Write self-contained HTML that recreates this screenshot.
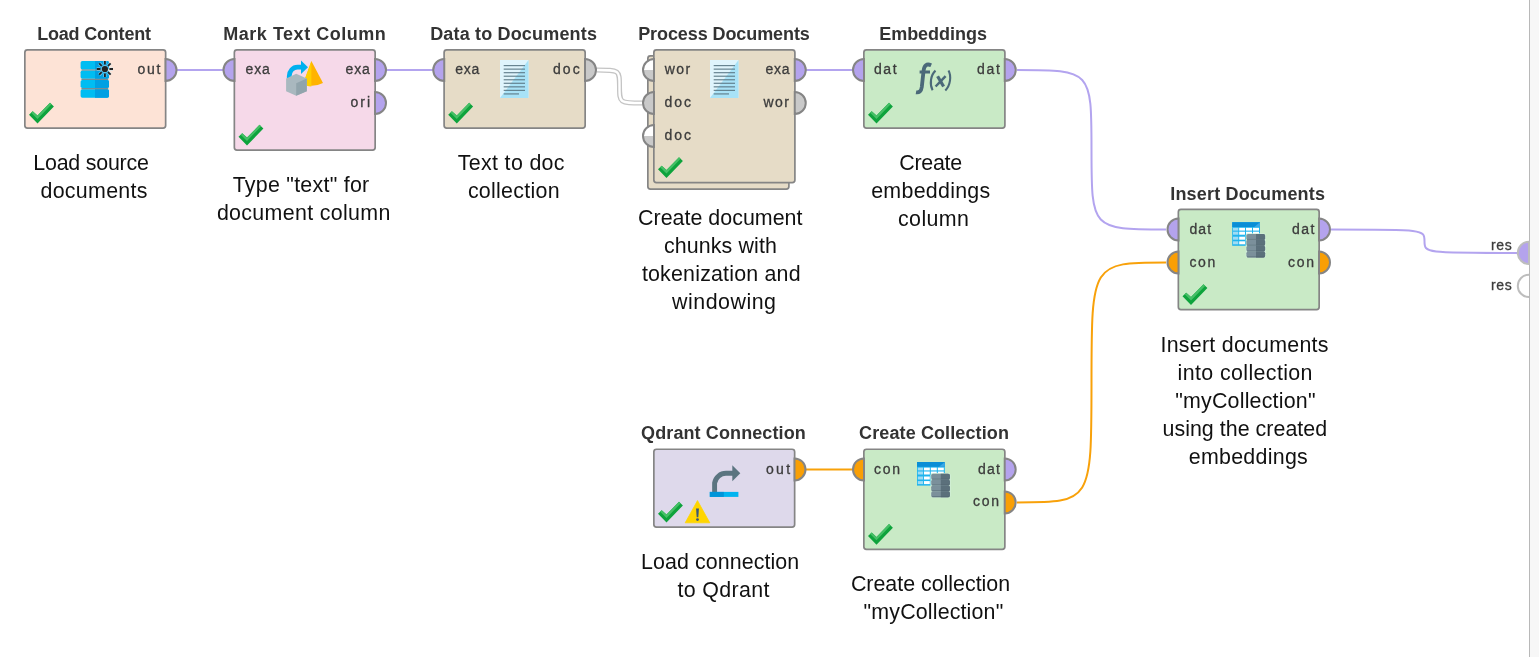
<!DOCTYPE html><html><head><meta charset="utf-8"><style>
html,body{margin:0;padding:0;background:#fff;width:1539px;height:657px;overflow:hidden}
svg{position:absolute;left:0;top:0;font-family:"Liberation Sans",sans-serif;will-change:transform}
.t{font-weight:bold;font-size:18px;fill:#333}
.d{font-size:21.4px;fill:#111}
.p{font-size:14px;fill:#3c3c3c;stroke:#3c3c3c;stroke-width:0.3px}
</style></head><body>
<svg width="1539" height="657" viewBox="0 0 1539 657">
<rect x="1530" y="0" width="9" height="657" fill="#f7f7f7"/>
<rect x="1529" y="0" width="1" height="657" fill="#b8b8b8"/>
<path d="M170,70 L230,70" fill="none" stroke="#b3a4ef" stroke-width="2"/>
<path d="M380,70 L440,70" fill="none" stroke="#b3a4ef" stroke-width="2"/>
<path d="M597,70 C619.5,70 619.5,70 619.5,86.5 C619.5,103 619.5,103 642,103" fill="none" stroke="#c4c4c4" stroke-width="5"/>
<path d="M597,70 C619.5,70 619.5,70 619.5,86.5 C619.5,103 619.5,103 642,103" fill="none" stroke="#fff" stroke-width="2.4"/>
<path d="M800,70 L860,70" fill="none" stroke="#b3a4ef" stroke-width="2"/>
<path d="M1017,70 C1091.5,70 1091.5,70 1091.5,149.75 C1091.5,229.5 1091.5,229.5 1166,229.5" fill="none" stroke="#b3a4ef" stroke-width="2"/>
<path d="M1331,229.5 C1424.5,229.5 1424.5,229.5 1424.5,241.2 C1424.5,252.9 1424.5,252.9 1518,252.9" fill="none" stroke="#b3a4ef" stroke-width="2"/>
<path d="M800,469.4 L860,469.4" fill="none" stroke="#f8a10a" stroke-width="2"/>
<path d="M1017,502.4 C1091.5,502.4 1091.5,502.4 1091.5,382.45 C1091.5,262.5 1091.5,262.5 1166,262.5" fill="none" stroke="#f8a10a" stroke-width="2"/>
<rect x="24.85" y="49.85" width="140.8" height="78.3" rx="2.6" fill="#fde3d6" stroke="#858585" stroke-width="1.7"/>
<text class="t" x="37.20" y="40" style="letter-spacing:-0.196px">Load Content</text>
<path d="M165.5,59 A11,11 0 0 1 165.5,81 Z" fill="#b4a3ed" stroke="#858585" stroke-width="2"/>
<polygon points="29.0,114.7 32.7,111.2 37.5,115.6 50.0,102.8 53.9,106.5 37.5,123.4" fill="#0ea33c"/>
<polygon points="31.1,112.7 32.7,111.2 37.5,115.6 50.0,102.8 51.6,104.3 37.5,118.9" fill="#45bf66"/>
<rect x="234.35" y="49.85" width="140.8" height="100.3" rx="2.6" fill="#f6d9e9" stroke="#858585" stroke-width="1.7"/>
<text class="t" x="223.22" y="40" style="letter-spacing:0.528px">Mark Text Column</text>
<path d="M234.5,59 A11,11 0 0 0 234.5,81 Z" fill="#b4a3ed" stroke="#858585" stroke-width="2"/>
<path d="M375.0,59 A11,11 0 0 1 375.0,81 Z" fill="#b4a3ed" stroke="#858585" stroke-width="2"/>
<path d="M375.0,92 A11,11 0 0 1 375.0,114 Z" fill="#b4a3ed" stroke="#858585" stroke-width="2"/>
<polygon points="238.5,136.7 242.2,133.2 247.0,137.6 259.5,124.8 263.4,128.5 247.0,145.4" fill="#0ea33c"/>
<polygon points="240.7,134.7 242.2,133.2 247.0,137.6 259.5,124.8 261.1,126.3 247.0,140.9" fill="#45bf66"/>
<rect x="444.1" y="49.85" width="141.05" height="78.3" rx="2.6" fill="#e6dcc7" stroke="#858585" stroke-width="1.7"/>
<text class="t" x="430.18" y="40" style="letter-spacing:0.170px">Data to Documents</text>
<path d="M444.25,59 A11,11 0 0 0 444.25,81 Z" fill="#b4a3ed" stroke="#858585" stroke-width="2"/>
<path d="M585.0,59 A11,11 0 0 1 585.0,81 Z" fill="#c9c9c9" stroke="#858585" stroke-width="2"/>
<polygon points="448.2,114.7 451.9,111.2 456.8,115.6 469.2,102.8 473.1,106.5 456.8,123.4" fill="#0ea33c"/>
<polygon points="450.4,112.7 451.9,111.2 456.8,115.6 469.2,102.8 470.9,104.3 456.8,118.9" fill="#45bf66"/>
<rect x="647.85" y="55.85" width="141.05" height="133.3" rx="2.6" fill="#e6dcc7" stroke="#858585" stroke-width="1.7"/>
<rect x="653.85" y="49.85" width="141.05" height="132.8" rx="2.6" fill="#e6dcc7" stroke="#858585" stroke-width="1.7"/>
<text class="t" x="638.18" y="40" style="letter-spacing:-0.089px">Process Documents</text>
<path d="M654,59 A11,11 0 0 0 654,81 Z" fill="#fff" stroke="none"/>
<path d="M654,70 L643,70 A11,11 0 0 0 654,81 Z" fill="#c9c9c9"/>
<path d="M654,59 A11,11 0 0 0 654,81 Z" fill="none" stroke="#858585" stroke-width="2"/>
<path d="M654,92 A11,11 0 0 0 654,114 Z" fill="#c9c9c9" stroke="#858585" stroke-width="2"/>
<path d="M654,125 A11,11 0 0 0 654,147 Z" fill="#fff" stroke="none"/>
<path d="M654,136 L643,136 A11,11 0 0 0 654,147 Z" fill="#c9c9c9"/>
<path d="M654,125 A11,11 0 0 0 654,147 Z" fill="none" stroke="#858585" stroke-width="2"/>
<path d="M794.75,59 A11,11 0 0 1 794.75,81 Z" fill="#b4a3ed" stroke="#858585" stroke-width="2"/>
<path d="M794.75,92 A11,11 0 0 1 794.75,114 Z" fill="#c9c9c9" stroke="#858585" stroke-width="2"/>
<polygon points="658.0,169.2 661.7,165.7 666.5,170.1 679.0,157.3 682.9,161.0 666.5,177.9" fill="#0ea33c"/>
<polygon points="660.1,167.2 661.7,165.7 666.5,170.1 679.0,157.3 680.6,158.8 666.5,173.4" fill="#45bf66"/>
<rect x="863.85" y="49.85" width="141.05" height="78.3" rx="2.6" fill="#c9eac6" stroke="#858585" stroke-width="1.7"/>
<text class="t" x="879.20" y="40" style="letter-spacing:-0.029px">Embeddings</text>
<path d="M864,59 A11,11 0 0 0 864,81 Z" fill="#b4a3ed" stroke="#858585" stroke-width="2"/>
<path d="M1004.75,59 A11,11 0 0 1 1004.75,81 Z" fill="#b4a3ed" stroke="#858585" stroke-width="2"/>
<polygon points="868.0,114.7 871.7,111.2 876.5,115.6 889.0,102.8 892.9,106.5 876.5,123.4" fill="#0ea33c"/>
<polygon points="870.1,112.7 871.7,111.2 876.5,115.6 889.0,102.8 890.6,104.3 876.5,118.9" fill="#45bf66"/>
<rect x="1178.35" y="209.35" width="140.8" height="100.3" rx="2.6" fill="#c9eac6" stroke="#858585" stroke-width="1.7"/>
<text class="t" x="1170.22" y="199.5" style="letter-spacing:0.181px">Insert Documents</text>
<path d="M1178.5,218.5 A11,11 0 0 0 1178.5,240.5 Z" fill="#b4a3ed" stroke="#858585" stroke-width="2"/>
<path d="M1178.5,251.5 A11,11 0 0 0 1178.5,273.5 Z" fill="#f99f05" stroke="#858585" stroke-width="2"/>
<path d="M1319.0,218.5 A11,11 0 0 1 1319.0,240.5 Z" fill="#b4a3ed" stroke="#858585" stroke-width="2"/>
<path d="M1319.0,251.5 A11,11 0 0 1 1319.0,273.5 Z" fill="#f99f05" stroke="#858585" stroke-width="2"/>
<polygon points="1182.5,296.2 1186.2,292.7 1191.0,297.1 1203.5,284.3 1207.4,288.0 1191.0,304.9" fill="#0ea33c"/>
<polygon points="1184.7,294.2 1186.2,292.7 1191.0,297.1 1203.5,284.3 1205.1,285.9 1191.0,300.4" fill="#45bf66"/>
<rect x="653.85" y="449.25" width="140.8" height="77.89999999999999" rx="2.6" fill="#ded9eb" stroke="#858585" stroke-width="1.7"/>
<text class="t" x="641.08" y="439.4" style="letter-spacing:0.106px">Qdrant Connection</text>
<path d="M794.5,458.4 A11,11 0 0 1 794.5,480.4 Z" fill="#f99f05" stroke="#858585" stroke-width="2"/>
<polygon points="658.0,513.7 661.7,510.2 666.5,514.6 679.0,501.8 682.9,505.5 666.5,522.4" fill="#0ea33c"/>
<polygon points="660.1,511.7 661.7,510.2 666.5,514.6 679.0,501.8 680.6,503.4 666.5,517.9" fill="#45bf66"/>
<rect x="863.85" y="449.25" width="141.0" height="100.2" rx="2.6" fill="#c9eac6" stroke="#858585" stroke-width="1.7"/>
<text class="t" x="859.06" y="439.4" style="letter-spacing:0.114px">Create Collection</text>
<path d="M864,458.4 A11,11 0 0 0 864,480.4 Z" fill="#f99f05" stroke="#858585" stroke-width="2"/>
<path d="M1004.7,458.4 A11,11 0 0 1 1004.7,480.4 Z" fill="#b4a3ed" stroke="#858585" stroke-width="2"/>
<path d="M1004.7,491.4 A11,11 0 0 1 1004.7,513.4 Z" fill="#f99f05" stroke="#858585" stroke-width="2"/>
<polygon points="868.0,536.0 871.7,532.5 876.5,536.9 889.0,524.1 892.9,527.8 876.5,544.7" fill="#0ea33c"/>
<polygon points="870.1,534.0 871.7,532.5 876.5,536.9 889.0,524.1 890.6,525.6 876.5,540.2" fill="#45bf66"/>
<rect x="80.6" y="60.9" width="28.4" height="8.6" rx="1.8" fill="#00bdf2"/><path d="M95.0,60.9 h12.2 a1.8,1.8 0 0 1 1.8,1.8 v5.0 a1.8,1.8 0 0 1 -1.8,1.8 h-12.2 z" fill="#00a0e3"/><rect x="80.6" y="70.5" width="28.4" height="8.299999999999999" rx="1.8" fill="#00bdf2"/><path d="M95.0,70.5 h12.2 a1.8,1.8 0 0 1 1.8,1.8 v4.699999999999999 a1.8,1.8 0 0 1 -1.8,1.8 h-12.2 z" fill="#00a0e3"/><rect x="80.6" y="80.0" width="28.4" height="8.0" rx="1.8" fill="#00bdf2"/><path d="M95.0,80.0 h12.2 a1.8,1.8 0 0 1 1.8,1.8 v4.4 a1.8,1.8 0 0 1 -1.8,1.8 h-12.2 z" fill="#00a0e3"/><rect x="80.6" y="89.3" width="28.4" height="8.399999999999999" rx="1.8" fill="#00bdf2"/><path d="M95.0,89.3 h12.2 a1.8,1.8 0 0 1 1.8,1.8 v4.799999999999999 a1.8,1.8 0 0 1 -1.8,1.8 h-12.2 z" fill="#00a0e3"/><rect x="81.39999999999999" y="69.5" width="26.8" height="1.0" fill="#5f7e8b" opacity="0.85"/><rect x="81.39999999999999" y="78.8" width="26.8" height="1.2000000000000028" fill="#5f7e8b" opacity="0.85"/><rect x="81.39999999999999" y="88.0" width="26.8" height="1.2999999999999972" fill="#5f7e8b" opacity="0.85"/><path d="M109.40,69.00 L113.00,69.00 M108.08,72.18 L110.63,74.73 M104.90,73.50 L104.90,77.10 M101.72,72.18 L99.17,74.73 M100.40,69.00 L96.80,69.00 M101.72,65.82 L99.17,63.27 M104.90,64.50 L104.90,60.90 M108.08,65.82 L110.63,63.27 " stroke="#bfe9f9" stroke-width="3.4" opacity="0.5"/><circle cx="104.89999999999999" cy="69.0" r="4" fill="#bfe9f9" opacity="0.5"/><path d="M109.40,69.00 L113.00,69.00 M108.08,72.18 L110.63,74.73 M104.90,73.50 L104.90,77.10 M101.72,72.18 L99.17,74.73 M100.40,69.00 L96.80,69.00 M101.72,65.82 L99.17,63.27 M104.90,64.50 L104.90,60.90 M108.08,65.82 L110.63,63.27 " stroke="#222" stroke-width="1.8"/><circle cx="104.89999999999999" cy="69.0" r="3.1" fill="#222"/>
<path d="M289.20,78.00 L289.20,76.30 A8.3,9.2 0 0 1 297.50,67.10 L301.50,67.10" fill="none" stroke="#00b0ef" stroke-width="4.7"/><polygon points="301.00,60.40 308.00,67.20 301.00,74.10" fill="#00b0ef"/><path d="M311.40,61.00 L303.30,83.40 Q311.40,88.50 323.00,82.90 Z" fill="#ffb300"/><path d="M311.40,61.00 L303.30,83.40 Q306.00,86.20 311.40,86.40 Z" fill="#ffd000"/><polygon points="286.10,78.40 296.20,73.80 306.80,78.40 306.80,91.20 296.20,95.70 286.10,91.20" fill="#a9b8bf"/><polygon points="296.20,83.30 306.80,78.40 306.80,91.20 296.20,95.70" fill="#91a4ac"/>
<rect x="500" y="60" width="28.5" height="38" fill="#dff4fc"/><polygon points="528.5,60 528.5,98 500,98" fill="#a8e2f7"/><rect x="503.7" y="65.0" width="21.3" height="1.2" fill="#5a7885" opacity="0.9"/><rect x="503.7" y="68.54" width="21.3" height="1.2" fill="#5a7885" opacity="0.9"/><rect x="503.7" y="72.08" width="21.3" height="1.2" fill="#5a7885" opacity="0.9"/><rect x="503.7" y="75.62" width="21.3" height="1.2" fill="#5a7885" opacity="0.9"/><rect x="503.7" y="79.16" width="21.3" height="1.2" fill="#5a7885" opacity="0.9"/><rect x="503.7" y="82.7" width="21.3" height="1.2" fill="#5a7885" opacity="0.9"/><rect x="503.7" y="86.24000000000001" width="21.3" height="1.2" fill="#5a7885" opacity="0.9"/><rect x="503.7" y="89.78" width="21.3" height="1.2" fill="#5a7885" opacity="0.9"/><rect x="503.7" y="93.32" width="15.3" height="1.2" fill="#5a7885" opacity="0.9"/>
<rect x="710" y="60" width="28.5" height="38" fill="#dff4fc"/><polygon points="738.5,60 738.5,98 710,98" fill="#a8e2f7"/><rect x="713.7" y="65.0" width="21.3" height="1.2" fill="#5a7885" opacity="0.9"/><rect x="713.7" y="68.54" width="21.3" height="1.2" fill="#5a7885" opacity="0.9"/><rect x="713.7" y="72.08" width="21.3" height="1.2" fill="#5a7885" opacity="0.9"/><rect x="713.7" y="75.62" width="21.3" height="1.2" fill="#5a7885" opacity="0.9"/><rect x="713.7" y="79.16" width="21.3" height="1.2" fill="#5a7885" opacity="0.9"/><rect x="713.7" y="82.7" width="21.3" height="1.2" fill="#5a7885" opacity="0.9"/><rect x="713.7" y="86.24000000000001" width="21.3" height="1.2" fill="#5a7885" opacity="0.9"/><rect x="713.7" y="89.78" width="21.3" height="1.2" fill="#5a7885" opacity="0.9"/><rect x="713.7" y="93.32" width="15.3" height="1.2" fill="#5a7885" opacity="0.9"/>
<path d="M931.20,65.30 C926.50,63.20 924.30,65.50 923.60,70.50 L921.80,87.00 C921.20,91.50 919.00,92.80 916.00,92.30" fill="none" stroke="#4b6979" stroke-width="3.8"/><rect x="919.6" y="70.5" width="10.4" height="3" fill="#4b6979"/><path d="M935.50,70.60 C930.50,75.00 929.50,84.50 932.60,90.20" fill="none" stroke="#4b6979" stroke-width="2.1"/><path d="M948.50,70.60 C951.50,76.00 950.50,85.50 945.30,90.50" fill="none" stroke="#4b6979" stroke-width="2.1"/><path d="M937.60,76.20 L943.60,86.50" fill="none" stroke="#4b6979" stroke-width="3.2"/><path d="M945.60,76.20 L935.60,86.50" fill="none" stroke="#4b6979" stroke-width="2.5"/>
<rect x="1232.2" y="222.2" width="27.8" height="23.6" fill="#1fb4ee"/><rect x="1232.2" y="222.2" width="27.8" height="4.8" fill="#0a8ed6"/><polygon points="1260.0,222.2 1260.0,227.0 1254.2,227.0" fill="#3aa8e6"/><rect x="1233.0" y="227.79999999999998" width="5.3" height="2.8000000000000007" fill="#9fdcf4"/><rect x="1233.0" y="231.7" width="5.3" height="3.0" fill="#9fdcf4"/><rect x="1233.0" y="236.7" width="5.3" height="3.0" fill="#9fdcf4"/><rect x="1233.0" y="241.29999999999998" width="5.3" height="3.0" fill="#9fdcf4"/><rect x="1239.2" y="227.79999999999998" width="5.800000000000001" height="2.8000000000000007" fill="#ffffff"/><rect x="1239.2" y="231.7" width="5.800000000000001" height="3.0" fill="#ffffff"/><rect x="1239.2" y="236.7" width="5.800000000000001" height="3.0" fill="#ffffff"/><rect x="1239.2" y="241.29999999999998" width="5.800000000000001" height="3.0" fill="#ffffff"/><rect x="1246.0" y="227.79999999999998" width="6.0" height="2.8000000000000007" fill="#ffffff"/><rect x="1246.0" y="231.7" width="6.0" height="3.0" fill="#ffffff"/><rect x="1246.0" y="236.7" width="6.0" height="3.0" fill="#ffffff"/><rect x="1246.0" y="241.29999999999998" width="6.0" height="3.0" fill="#ffffff"/><rect x="1253.0" y="227.79999999999998" width="6.0" height="2.8000000000000007" fill="#ffffff"/><rect x="1253.0" y="231.7" width="6.0" height="3.0" fill="#ffffff"/><rect x="1253.0" y="236.7" width="6.0" height="3.0" fill="#ffffff"/><rect x="1253.0" y="241.29999999999998" width="6.0" height="3.0" fill="#ffffff"/><rect x="1245.6000000000001" y="233.2" width="20.3" height="24.8" rx="2.2" fill="#d2f0d8" opacity="0.9"/><rect x="1246.4" y="234.0" width="18.7" height="5.85" rx="1.7" fill="#7b909b"/><path d="M1256.0,234.0 h7.4 a1.7,1.7 0 0 1 1.7,1.7 v2.4499999999999997 a1.7,1.7 0 0 1 -1.7,1.7 h-7.4 z" fill="#5b707b"/><rect x="1247.0" y="238.95" width="17.5" height="0.9" fill="#4f636e" opacity="0.7"/><rect x="1246.4" y="239.85" width="18.7" height="5.85" rx="1.7" fill="#7b909b"/><path d="M1256.0,239.85 h7.4 a1.7,1.7 0 0 1 1.7,1.7 v2.4499999999999997 a1.7,1.7 0 0 1 -1.7,1.7 h-7.4 z" fill="#5b707b"/><rect x="1247.0" y="244.79999999999998" width="17.5" height="0.9" fill="#4f636e" opacity="0.7"/><rect x="1246.4" y="245.7" width="18.7" height="5.85" rx="1.7" fill="#7b909b"/><path d="M1256.0,245.7 h7.4 a1.7,1.7 0 0 1 1.7,1.7 v2.4499999999999997 a1.7,1.7 0 0 1 -1.7,1.7 h-7.4 z" fill="#5b707b"/><rect x="1247.0" y="250.64999999999998" width="17.5" height="0.9" fill="#4f636e" opacity="0.7"/><rect x="1246.4" y="251.55" width="18.7" height="5.85" rx="1.7" fill="#7b909b"/><path d="M1256.0,251.55 h7.4 a1.7,1.7 0 0 1 1.7,1.7 v2.4499999999999997 a1.7,1.7 0 0 1 -1.7,1.7 h-7.4 z" fill="#5b707b"/><rect x="1247.0" y="256.50000000000006" width="17.5" height="0.9" fill="#4f636e" opacity="0.7"/>
<rect x="917" y="462" width="27.8" height="23.6" fill="#1fb4ee"/><rect x="917" y="462" width="27.8" height="4.8" fill="#0a8ed6"/><polygon points="944.8,462 944.8,466.8 939,466.8" fill="#3aa8e6"/><rect x="917.8" y="467.6" width="5.3" height="2.8000000000000007" fill="#9fdcf4"/><rect x="917.8" y="471.5" width="5.3" height="3.0" fill="#9fdcf4"/><rect x="917.8" y="476.5" width="5.3" height="3.0" fill="#9fdcf4"/><rect x="917.8" y="481.1" width="5.3" height="3.0" fill="#9fdcf4"/><rect x="924" y="467.6" width="5.800000000000001" height="2.8000000000000007" fill="#ffffff"/><rect x="924" y="471.5" width="5.800000000000001" height="3.0" fill="#ffffff"/><rect x="924" y="476.5" width="5.800000000000001" height="3.0" fill="#ffffff"/><rect x="924" y="481.1" width="5.800000000000001" height="3.0" fill="#ffffff"/><rect x="930.8" y="467.6" width="6.0" height="2.8000000000000007" fill="#ffffff"/><rect x="930.8" y="471.5" width="6.0" height="3.0" fill="#ffffff"/><rect x="930.8" y="476.5" width="6.0" height="3.0" fill="#ffffff"/><rect x="930.8" y="481.1" width="6.0" height="3.0" fill="#ffffff"/><rect x="937.8" y="467.6" width="6.0" height="2.8000000000000007" fill="#ffffff"/><rect x="937.8" y="471.5" width="6.0" height="3.0" fill="#ffffff"/><rect x="937.8" y="476.5" width="6.0" height="3.0" fill="#ffffff"/><rect x="937.8" y="481.1" width="6.0" height="3.0" fill="#ffffff"/><rect x="930.4000000000001" y="473.0" width="20.3" height="24.8" rx="2.2" fill="#d2f0d8" opacity="0.9"/><rect x="931.2" y="473.8" width="18.7" height="5.85" rx="1.7" fill="#7b909b"/><path d="M940.8000000000001,473.8 h7.4 a1.7,1.7 0 0 1 1.7,1.7 v2.4499999999999997 a1.7,1.7 0 0 1 -1.7,1.7 h-7.4 z" fill="#5b707b"/><rect x="931.8000000000001" y="478.75000000000006" width="17.5" height="0.9" fill="#4f636e" opacity="0.7"/><rect x="931.2" y="479.65000000000003" width="18.7" height="5.85" rx="1.7" fill="#7b909b"/><path d="M940.8000000000001,479.65000000000003 h7.4 a1.7,1.7 0 0 1 1.7,1.7 v2.4499999999999997 a1.7,1.7 0 0 1 -1.7,1.7 h-7.4 z" fill="#5b707b"/><rect x="931.8000000000001" y="484.6000000000001" width="17.5" height="0.9" fill="#4f636e" opacity="0.7"/><rect x="931.2" y="485.5" width="18.7" height="5.85" rx="1.7" fill="#7b909b"/><path d="M940.8000000000001,485.5 h7.4 a1.7,1.7 0 0 1 1.7,1.7 v2.4499999999999997 a1.7,1.7 0 0 1 -1.7,1.7 h-7.4 z" fill="#5b707b"/><rect x="931.8000000000001" y="490.45000000000005" width="17.5" height="0.9" fill="#4f636e" opacity="0.7"/><rect x="931.2" y="491.35" width="18.7" height="5.85" rx="1.7" fill="#7b909b"/><path d="M940.8000000000001,491.35 h7.4 a1.7,1.7 0 0 1 1.7,1.7 v2.4499999999999997 a1.7,1.7 0 0 1 -1.7,1.7 h-7.4 z" fill="#5b707b"/><rect x="931.8000000000001" y="496.30000000000007" width="17.5" height="0.9" fill="#4f636e" opacity="0.7"/>
<path d="M714.60,492.00 L714.60,483.00 A11.5,11.5 0 0 1 726.10,473.30 L733.00,473.30" fill="none" stroke="#5b7580" stroke-width="4.9"/><polygon points="732.30,465.30 740.30,473.30 732.30,481.30" fill="#5b7580"/><rect x="709.8" y="491.9" width="28.6" height="5" fill="#00b4f0"/><rect x="709.8" y="491.9" width="14" height="5" fill="#0095d9"/>
<polygon points="697.50,500.60 709.80,522.80 685.20,522.80" fill="#ffd500" stroke="#ffd500" stroke-width="0.8" stroke-linejoin="round"/><path d="M696.05,508.60 L698.95,508.60 L698.30,517.20 L696.70,517.20 Z" fill="#3b5878"/><circle cx="697.5" cy="519.6" r="1.45" fill="#3b5878"/>
<path d="M1529,241.7 A11.2,11.2 0 0 0 1529,264.1 Z" fill="#b4a3ed" stroke="#bdbdbd" stroke-width="2"/>
<path d="M1529,274.7 A11.2,11.2 0 0 0 1529,297.1" fill="#fff" stroke="#bdbdbd" stroke-width="2"/>
<text class="p" x="137.50" y="74.2" style="letter-spacing:1.750px">out</text>
<text class="p" x="245.60" y="74.3" style="letter-spacing:0.750px">exa</text>
<text class="p" x="345.60" y="74.2" style="letter-spacing:0.800px">exa</text>
<text class="p" x="350.50" y="107" style="letter-spacing:2.000px">ori</text>
<text class="p" x="455.30" y="74.2" style="letter-spacing:0.750px">exa</text>
<text class="p" x="552.90" y="73.8" style="letter-spacing:2.150px">doc</text>
<text class="p" x="664.70" y="73.8" style="letter-spacing:1.500px">wor</text>
<text class="p" x="664.60" y="106.6" style="letter-spacing:1.950px">doc</text>
<text class="p" x="664.60" y="139.5" style="letter-spacing:1.950px">doc</text>
<text class="p" x="765.40" y="74.2" style="letter-spacing:0.750px">exa</text>
<text class="p" x="763.40" y="107" style="letter-spacing:1.500px">wor</text>
<text class="p" x="873.90" y="74.2" style="letter-spacing:1.600px">dat</text>
<text class="p" x="977.10" y="74.2" style="letter-spacing:1.700px">dat</text>
<text class="p" x="1189.50" y="233.7" style="letter-spacing:1.050px">dat</text>
<text class="p" x="1189.50" y="266.5" style="letter-spacing:1.550px">con</text>
<text class="p" x="1291.90" y="233.7" style="letter-spacing:1.500px">dat</text>
<text class="p" x="1288.10" y="266.5" style="letter-spacing:1.650px">con</text>
<text class="p" x="766.00" y="473.7" style="letter-spacing:2.300px">out</text>
<text class="p" x="874.10" y="473.7" style="letter-spacing:1.700px">con</text>
<text class="p" x="978.10" y="473.7" style="letter-spacing:1.200px">dat</text>
<text class="p" x="972.90" y="506.1" style="letter-spacing:1.750px">con</text>
<text class="p" x="1490.90" y="249.5" style="letter-spacing:0.700px">res</text>
<text class="p" x="1490.90" y="290.2" style="letter-spacing:0.700px">res</text>
<text class="d" x="33.30" y="169.7" style="letter-spacing:-0.220px">Load source</text>
<text class="d" x="40.50" y="197.9" style="letter-spacing:0.287px">documents</text>
<text class="d" x="232.70" y="191.6" style="letter-spacing:0.257px">Type "text" for</text>
<text class="d" x="216.90" y="219.6" style="letter-spacing:0.329px">document column</text>
<text class="d" x="457.80" y="169.8" style="letter-spacing:0.330px">Text to doc</text>
<text class="d" x="467.90" y="198" style="letter-spacing:0.278px">collection</text>
<text class="d" x="638.00" y="224.7" style="letter-spacing:0.029px">Create document</text>
<text class="d" x="663.90" y="253" style="letter-spacing:0.120px">chunks with</text>
<text class="d" x="641.90" y="281" style="letter-spacing:0.193px">tokenization and</text>
<text class="d" x="672.10" y="309" style="letter-spacing:0.500px">windowing</text>
<text class="d" x="899.30" y="169.7" style="letter-spacing:-0.260px">Create</text>
<text class="d" x="871.20" y="197.7" style="letter-spacing:0.278px">embeddings</text>
<text class="d" x="898.00" y="225.8" style="letter-spacing:0.400px">column</text>
<text class="d" x="1160.50" y="351.7" style="letter-spacing:0.260px">Insert documents</text>
<text class="d" x="1177.60" y="379.7" style="letter-spacing:0.379px">into collection</text>
<text class="d" x="1175.20" y="407.7" style="letter-spacing:0.208px">"myCollection"</text>
<text class="d" x="1162.50" y="435.7" style="letter-spacing:0.031px">using the created</text>
<text class="d" x="1188.80" y="463.5" style="letter-spacing:0.267px">embeddings</text>
<text class="d" x="641.10" y="569.1" style="letter-spacing:0.079px">Load connection</text>
<text class="d" x="677.40" y="597" style="letter-spacing:0.350px">to Qdrant</text>
<text class="d" x="850.90" y="590.6" style="letter-spacing:-0.006px">Create collection</text>
<text class="d" x="863.60" y="618.5" style="letter-spacing:0.154px">"myCollection"</text>
</svg></body></html>
